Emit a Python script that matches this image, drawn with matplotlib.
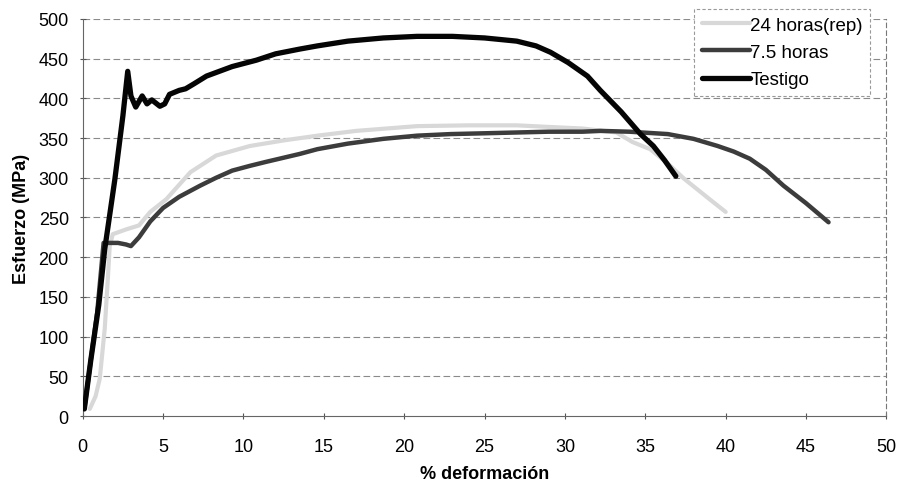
import numpy as np
import matplotlib
matplotlib.use("Agg")
import matplotlib.pyplot as plt

# Curvas esfuerzo-deformación
testigo_x = [0.1, 0.5, 1.0, 1.37, 2.0, 2.5, 2.8, 3.0, 3.3, 3.7, 4.0, 4.3, 4.8, 5.1,
             5.4, 6.0, 6.4, 6.9, 7.7, 8.1, 9.3, 10.8, 12.0, 13.5, 14.6, 16.5, 18.7,
             20.8, 23.0, 25.0, 27.0, 28.2, 29.1, 30.2, 31.4, 32.2, 33.5, 34.7, 35.5,
             36.2, 36.9]
testigo_y = [9, 70, 140, 210, 298, 378, 434, 403, 389, 403, 393, 398, 390, 393,
             405, 410, 412, 418, 428, 431, 440, 448, 456, 462, 466, 472, 476,
             478, 478, 476, 472, 466, 458, 445, 428, 410, 383, 355, 340, 322, 302]

h75_x = [0.1, 0.5, 0.9, 1.3, 1.6, 2.2, 2.7, 3.0, 3.5, 4.2, 5.0, 6.0, 7.3, 8.3,
         9.3, 10.4, 11.4, 13.5, 14.6, 16.5, 18.7, 20.8, 22.9, 25.0, 27.0, 29.0,
         31.1, 32.2, 34.0, 36.4, 38.0, 39.5, 40.5, 41.5, 42.5, 43.6, 45.0, 46.4]
h75_y = [9, 70, 130, 218, 218, 218, 216, 214, 225, 245, 262, 276, 290, 300,
         309, 315, 320, 330, 336, 343, 349, 353, 355, 356, 357, 358,
         358, 359, 358, 355, 349, 340, 333, 324, 310, 290, 268, 244]

h24_x = [0.44, 0.8, 1.06, 1.37, 1.56, 1.68, 1.87, 2.7, 3.5, 4.2, 5.2, 6.7, 8.3,
         10.4, 12.5, 14.6, 17.0, 20.8, 24.0, 27.0, 29.0, 31.1, 33.2, 34.2,
         35.3, 36.4, 37.4, 38.2, 39.0, 40.0]
h24_y = [9, 25, 47, 110, 172, 214, 229, 235, 240, 257, 273, 307, 328,
         340, 347, 353, 359, 365, 366, 366, 364, 362, 357, 345,
         336, 318, 299, 286, 273, 257]

x_ticks = list(range(0, 51, 5))
y_ticks = list(range(0, 501, 50))

plt.rcParams['font.family'] = ['Liberation Sans', 'DejaVu Sans']

fig = plt.figure(figsize=(8.99, 4.85), dpi=100)
ax = fig.add_axes([0.092, 0.140, 0.894, 0.819])

ax.plot(h24_x, h24_y, color='#d8d8d8', lw=3.0, solid_capstyle='round',
        label='24 horas(rep)', zorder=3)
ax.plot(h75_x, h75_y, color='#3c3c3c', lw=3.2, solid_capstyle='round',
        label='7.5 horas', zorder=4)
ax.plot(testigo_x, testigo_y, color='#050505', lw=3.8, solid_capstyle='round',
        label='Testigo', zorder=5)

ax.set_xlim(0, 50)
ax.set_ylim(0, 500)
ax.set_xticks(x_ticks)
ax.set_yticks(y_ticks)
ax.tick_params(labelsize=13, length=4, direction='inout', color='#555555')
ax.tick_params(axis='y', pad=8)
ax.tick_params(axis='x', pad=14)

for y in y_ticks[1:]:
    ax.axhline(y, color='#8a8a8a', lw=0.8, ls=(0, (6, 3)), zorder=1)

ax.spines['top'].set_visible(False)
ax.spines['right'].set_linestyle((0, (4, 3)))
ax.spines['right'].set_color('#777777')
ax.spines['right'].set_linewidth(0.8)
ax.spines['left'].set_color('#666666')
ax.spines['bottom'].set_color('#666666')

ax.set_xlabel('% deformación', fontsize=13, fontweight='bold', labelpad=7)
ax.set_ylabel('Esfuerzo (MPa)', fontsize=13, fontweight='bold', labelpad=6)

leg = ax.legend(loc='upper right', bbox_to_anchor=(0.980, 1.025), fontsize=13.5,
                frameon=True, fancybox=False, handlelength=2.6, handletextpad=0.0,
                borderpad=0.4, labelspacing=0.55, borderaxespad=0.0, framealpha=1)
leg.get_frame().set_edgecolor('#999999')
leg.get_frame().set_linestyle((0, (3, 2)))
leg.get_frame().set_linewidth(0.8)

fig.savefig('out.png', dpi=100)
